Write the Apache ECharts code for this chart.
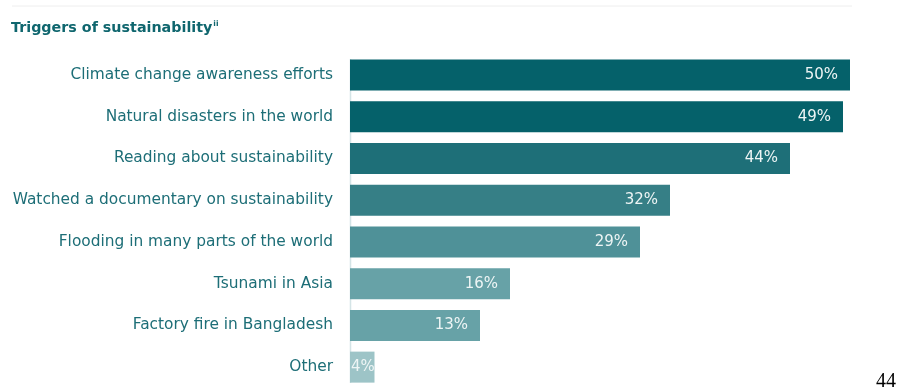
<!DOCTYPE html>
<html><head><meta charset="utf-8">
<script src="https://cdn.jsdelivr.net/npm/echarts@6/dist/echarts.min.js"></script>
<style>html,body{margin:0;padding:0;background:#fff}#c{width:901px;height:390px}</style>
</head><body><div id="c"></div>
<script>
const categories = ['Climate change awareness efforts','Natural disasters in the world','Reading about sustainability','Watched a documentary on sustainability','Flooding in many parts of the world','Tsunami in Asia','Factory fire in Bangladesh','Other'];
const values = [50, 49.3, 44, 32, 29, 16, 13, 2.45];
const valueLabels = ['50%','49%','44%','32%','29%','16%','13%','4%'];
const barColors = ['#05616a','#05616a','#1e6f78','#367f86','#4f9198','#67a2a7','#67a2a7','#9dc4c7'];

const chart = echarts.init(document.getElementById('c'));
const data = values.map((v, i) => {
  const item = { value: v, itemStyle: { color: barColors[i] } };
  if (i === values.length - 1) item.label = { position: 'insideLeft', distance: 1 };
  return item;
});
chart.setOption({
  animation: false,
  graphic: [
    { type: 'line', shape: { x1: 12, y1: 6, x2: 852, y2: 6 }, style: { stroke: '#eeeeee', lineWidth: 1 } },
    { type: 'line', z: 0, shape: { x1: 350.5, y1: 59, x2: 350.5, y2: 383 }, style: { stroke: '#d4e4e6', lineWidth: 1.5 } },
    { type: 'text', left: 11, top: 20, style: {
        text: '{t|Triggers of sustainability}{s|ii}',
        rich: {
          t: { fontFamily: 'DejaVu Sans', fontWeight: 'bold', fontSize: 14.3, fill: '#0f666e' },
          s: { fontFamily: 'DejaVu Sans', fontWeight: 'bold', fontSize: 7.5, fill: '#0f666e', verticalAlign: 'top', padding: [0,0,8,1] }
        } } },
    { type: 'text', left: 876, top: 372, style: { text: '44', fontFamily: 'Liberation Serif', fontSize: 20, fill: '#000' } }
  ],
  grid: { left: 350, right: 51, top: 54, bottom: 2, containLabel: false },
  xAxis: { type: 'value', min: 0, max: 50, show: false },
  yAxis: {
    type: 'category', data: categories, inverse: true,
    axisLine: { show: false },
    axisTick: { show: false },
    axisLabel: { margin: 17, fontFamily: 'DejaVu Sans', fontSize: 15.4, color: '#1d6e77' }
  },
  series: [{
    type: 'bar', data: data, barWidth: 31,
    label: {
      show: true, position: 'insideRight', distance: 12,
      fontFamily: 'DejaVu Sans', fontSize: 15, color: '#eef5f5',
      formatter: p => valueLabels[p.dataIndex]
    }
  }]
});
</script></body></html>
